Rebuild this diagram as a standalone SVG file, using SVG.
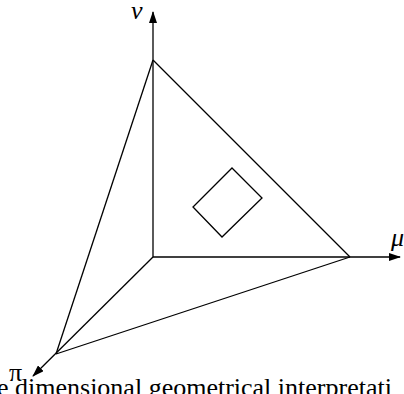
<svg xmlns="http://www.w3.org/2000/svg" width="404" height="394" viewBox="0 0 404 394">
<style>
.ln{stroke:#000;stroke-width:1.3;fill:none}
.t{font-family:"Liberation Serif","Times New Roman","DejaVu Serif",serif;font-size:26px;fill:#000}
.i{font-style:italic}
</style>
<defs>
<marker id="ah" markerWidth="12" markerHeight="8" refX="11" refY="4" orient="auto" markerUnits="userSpaceOnUse">
<path d="M0,0 L12,4 L0,8 Z" fill="#000"/>
</marker>
</defs>
<rect width="404" height="394" fill="#fff"/>
<g id="connectors">
<line class="ln" x1="153" y1="257" x2="153" y2="12" marker-end="url(#ah)"/>
<line class="ln" x1="153" y1="257" x2="400" y2="257" marker-end="url(#ah)"/>
<line class="ln" x1="153" y1="257" x2="33" y2="376" marker-end="url(#ah)"/>
<line class="ln" x1="153" y1="60" x2="350" y2="257"/>
<line class="ln" x1="153" y1="60" x2="56" y2="354"/>
<line class="ln" x1="350" y1="257" x2="56" y2="354"/>
</g>
<g id="square">
<polygon class="ln" points="232,168 262,198 222,237 193,207"/>
</g>
<g id="labels">
<text class="t i" x="131" y="19">ν</text>
<text class="t i" x="391" y="246">μ</text>
<text class="t" x="9" y="381">π</text>
<text class="t" x="-3" y="396">e dimensional geometrical interpretati</text>
</g>
</svg>
